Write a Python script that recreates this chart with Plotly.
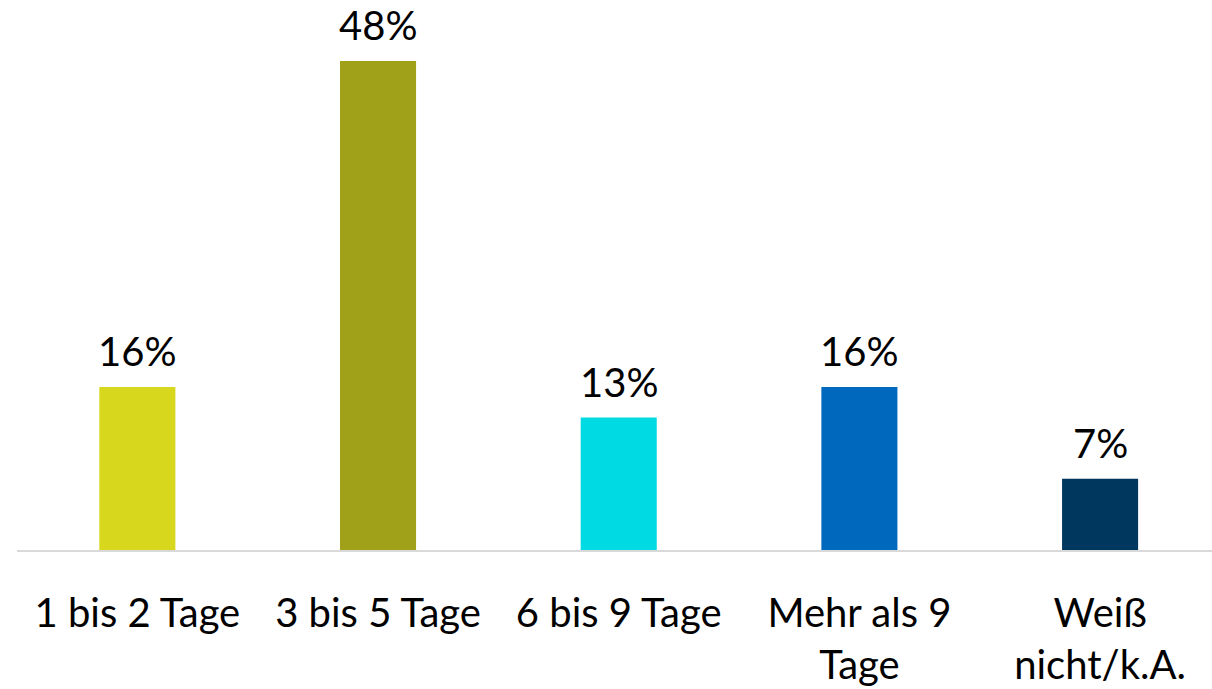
import plotly.graph_objects as go

categories = ["1 bis 2 Tage", "3 bis 5 Tage", "6 bis 9 Tage", "Mehr als 9<br>Tage", "Weiß<br>nicht/k.A."]
values = [16, 48, 13, 16, 7]
labels = ["16%", "48%", "13%", "16%", "7%"]
colors = ["#D7D71E", "#A0A019", "#00DAE2", "#0069BE", "#00375F"]

FONT = "Lato"
FS = 40

fig = go.Figure()
fig.add_trace(go.Bar(
    x=list(range(len(categories))),
    y=values,
    marker=dict(color=colors, line=dict(width=0)),
    width=0.316,
    hoverinfo="skip",
))

for i, (v, t) in enumerate(zip(values, labels)):
    fig.add_annotation(x=i, y=v, text=t, showarrow=False, yanchor="bottom",
                       yshift=10, font=dict(family=FONT, size=FS, color="#000000"))

fig.update_layout(
    width=1212, height=689,
    margin=dict(l=17, r=0, t=0, b=139, autoexpand=False),
    plot_bgcolor="white", paper_bgcolor="white",
    showlegend=False,
    font=dict(family=FONT, size=FS, color="#000000"),
    xaxis=dict(
        range=[-0.5, 4.465],
        tickmode="array",
        tickvals=list(range(len(categories))),
        ticktext=categories,
        showgrid=False, zeroline=False,
        showline=True, linecolor="#D9D9D9", linewidth=2,
        ticks="", ticklabelstandoff=27, automargin=False,
        tickfont=dict(family=FONT, size=FS, color="#000000"),
    ),
    yaxis=dict(range=[0, 54], visible=False, showgrid=False, zeroline=False, automargin=False),
)

fig.write_html("out.html", config={"displayModeBar": False},
               post_script="document.body.style.margin='0';")
